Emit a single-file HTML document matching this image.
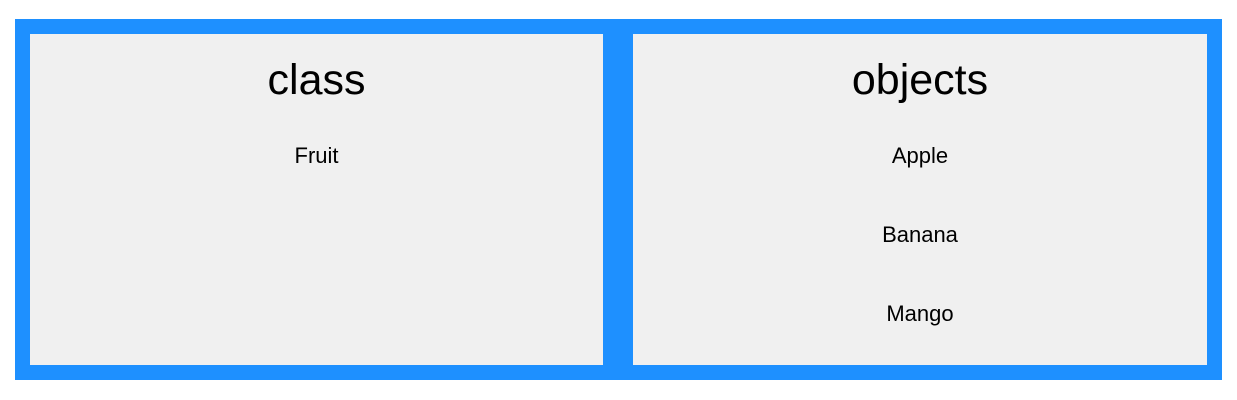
<!DOCTYPE html>
<html><head><meta charset="utf-8"><style>
body{margin:0;width:1237px;height:400px;background:#fff;position:relative;font-family:"Liberation Sans","DejaVu Sans",sans-serif;}
#wrap{position:absolute;left:15px;top:19px;width:1207px;height:361px;background:#1e90ff;}
.panel{position:absolute;top:15px;width:574px;height:331px;background:#f0f0f0;}
.title{position:absolute;left:0;width:100%;text-align:center;font-size:43px;top:20px;line-height:52px;color:#000;}
.item{position:absolute;left:0;width:100%;text-align:center;font-size:22px;line-height:26px;color:#000;}
</style></head><body>
<div id="wrap">
 <div class="panel" style="left:15px;width:573px">
  <div class="title">class</div>
  <div class="item" style="top:109px">Fruit</div>
 </div>
 <div class="panel" style="left:618px">
  <div class="title">objects</div>
  <div class="item" style="top:109px">Apple</div>
  <div class="item" style="top:188px">Banana</div>
  <div class="item" style="top:267px">Mango</div>
 </div>
</div>
</body></html>
